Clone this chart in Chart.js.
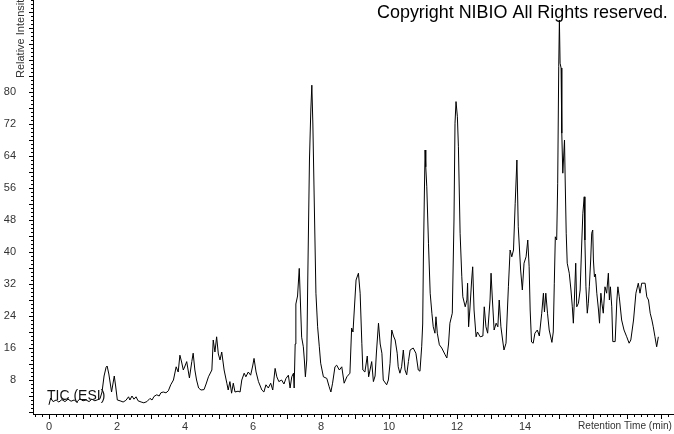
<!DOCTYPE html>
<html>
<head>
<meta charset="utf-8">
<script src="https://cdn.jsdelivr.net/npm/chart.js@4"></script>
<style>
  html, body { margin: 0; padding: 0; background: #fff; }
  canvas { display: block; }
</style>
</head>
<body>
<canvas id="ticChart" width="674" height="434"></canvas>
<script>
// retention time (min)
const times = [
  0, 0.05, 0.12, 0.21, 0.29, 0.38, 0.47, 0.56, 0.65, 0.74,
  0.82, 0.91, 1.00, 1.09, 1.18, 1.26, 1.35, 1.44, 1.50, 1.56,
  1.62, 1.68, 1.71, 1.76, 1.84, 1.88, 1.92, 1.96, 2.01, 2.09,
  2.18, 2.26, 2.34, 2.38, 2.44, 2.50, 2.56, 2.62, 2.71, 2.79,
  2.88, 2.97, 3.03, 3.09, 3.17, 3.24, 3.29, 3.36, 3.44, 3.51,
  3.58, 3.66, 3.74, 3.80, 3.85, 3.90, 3.95, 4.00, 4.05, 4.13,
  4.20, 4.24, 4.29, 4.34, 4.40, 4.47, 4.56, 4.62, 4.69, 4.79,
  4.83, 4.88, 4.93, 4.98, 5.03, 5.08, 5.15, 5.23, 5.27, 5.32,
  5.37, 5.42, 5.47, 5.56, 5.62, 5.67, 5.74, 5.79, 5.86, 5.93,
  5.99, 6.03, 6.09, 6.16, 6.26, 6.32, 6.38, 6.45, 6.52, 6.58,
  6.65, 6.70, 6.76, 6.84, 6.91, 6.97, 7.04, 7.09, 7.14, 7.19,
  7.21, 7.24, 7.26, 7.31, 7.36, 7.40, 7.43, 7.48, 7.51, 7.54,
  7.58, 7.61, 7.66, 7.70, 7.73, 7.76, 7.80, 7.85, 7.90, 7.95,
  7.99, 8.07, 8.17, 8.24, 8.29, 8.34, 8.41, 8.46, 8.54, 8.61,
  8.68, 8.76, 8.85, 8.90, 8.94, 9.03, 9.10, 9.15, 9.20, 9.23,
  9.29, 9.36, 9.40, 9.49, 9.54, 9.59, 9.63, 9.69, 9.74, 9.79,
  9.83, 9.93, 9.98, 10.03, 10.08, 10.13, 10.18, 10.24, 10.27, 10.32,
  10.37, 10.42, 10.47, 10.52, 10.57, 10.62, 10.71, 10.79, 10.86, 10.91,
  10.96, 10.99, 11.01, 11.04, 11.06, 11.08, 11.11, 11.16, 11.21, 11.26,
  11.30, 11.35, 11.38, 11.42, 11.48, 11.55, 11.65, 11.70, 11.75, 11.79,
  11.86, 11.91, 11.94, 11.97, 12.01, 12.04, 12.09, 12.14, 12.17, 12.24,
  12.29, 12.31, 12.34, 12.38, 12.43, 12.46, 12.50, 12.56, 12.60, 12.68,
  12.76, 12.80, 12.85, 12.90, 12.97, 13.00, 13.04, 13.09, 13.15, 13.20,
  13.24, 13.29, 13.34, 13.38, 13.44, 13.51, 13.56, 13.61, 13.66, 13.71,
  13.76, 13.80, 13.87, 13.92, 13.97, 14.03, 14.08, 14.12, 14.15, 14.19,
  14.24, 14.29, 14.36, 14.42, 14.49, 14.54, 14.57, 14.61, 14.66, 14.71,
  14.79, 14.83, 14.86, 14.89, 14.93, 14.96, 14.99, 15.01, 15.03, 15.06,
  15.08, 15.11, 15.13, 15.16, 15.18, 15.21, 15.24, 15.30, 15.35, 15.39,
  15.42, 15.45, 15.49, 15.52, 15.57, 15.62, 15.67, 15.70, 15.74, 15.76,
  15.79, 15.83, 15.86, 15.89, 15.93, 15.96, 15.99, 16.01, 16.04, 16.07,
  16.11, 16.16, 16.19, 16.23, 16.26, 16.30, 16.35, 16.40, 16.45, 16.48,
  16.51, 16.55, 16.58, 16.65, 16.70, 16.73, 16.77, 16.84, 16.91, 16.99,
  17.06, 17.11, 17.19, 17.26, 17.33, 17.38, 17.43, 17.53, 17.58, 17.63,
  17.68, 17.73, 17.77, 17.82, 17.87, 17.92
];

// relative intensity (%)
const intensity = [
  1.8, 3.5, 2.6, 3.0, 2.5, 3.1, 2.6, 3.2, 2.7, 3.0,
  2.5, 3.3, 2.8, 3.0, 2.6, 3.2, 2.8, 3.1, 3.3, 5.0,
  9.0, 11.2, 11.5, 9.5, 5.0, 7.0, 9.0, 6.5, 3.0, 2.8,
  2.5, 2.9, 3.8, 3.0, 4.0, 3.2, 3.8, 2.8, 2.5, 2.3,
  2.6, 3.4, 3.0, 3.9, 4.3, 4.0, 4.8, 5.0, 4.8, 5.3,
  6.8, 8.0, 11.3, 10.0, 14.2, 12.5, 10.5, 11.5, 12.6, 8.5,
  12.6, 14.7, 10.5, 8.0, 6.0, 5.5, 5.6, 7.0, 8.8, 10.5,
  18.0, 15.0, 18.8, 14.5, 13.0, 15.0, 10.5, 7.2, 5.5, 7.6,
  4.7, 7.2, 5.0, 5.2, 5.0, 8.0, 9.7, 8.8, 10.0, 9.2,
  11.5, 13.4, 10.0, 7.6, 5.5, 5.0, 6.8, 6.0, 7.2, 5.5,
  10.9, 8.8, 7.6, 8.0, 7.0, 8.4, 9.2, 6.0, 8.8, 9.7,
  6.0, 17.0, 27.0, 29.0, 35.9, 26.0, 18.7, 16.3, 13.0, 8.8,
  13.0, 33.0, 63.0, 75.5, 81.7, 72.0, 53.0, 29.7, 21.3, 16.3,
  12.2, 8.8, 8.4, 6.3, 5.0, 7.2, 11.3, 11.7, 10.5, 11.3,
  7.2, 8.8, 9.7, 21.0, 20.0, 33.0, 34.7, 29.7, 17.2, 10.5,
  10.0, 14.0, 8.8, 12.6, 7.6, 9.0, 15.0, 22.2, 17.0, 14.7,
  8.0, 6.8, 8.0, 12.2, 20.5, 19.0, 18.0, 14.7, 11.3, 9.7,
  11.3, 15.5, 10.5, 9.3, 12.6, 15.5, 16.0, 14.7, 10.5, 10.2,
  16.3, 22.0, 38.0, 55.0, 65.5, 61.3, 56.3, 42.2, 29.7, 24.7,
  21.3, 19.7, 23.8, 19.7, 16.8, 16.0, 14.3, 13.5, 17.0, 22.2,
  24.7, 48.0, 72.2, 77.6, 73.8, 66.3, 44.7, 33.8, 28.8, 26.3,
  28.0, 32.2, 21.3, 26.0, 33.0, 36.3, 25.5, 18.8, 20.0, 18.8,
  19.0, 26.3, 21.3, 19.7, 28.0, 34.7, 28.0, 20.5, 22.2, 21.3,
  28.0, 21.3, 18.0, 15.5, 17.2, 31.3, 40.5, 38.8, 40.5, 52.2,
  63.0, 46.3, 35.5, 30.5, 37.2, 38.8, 43.0, 36.3, 25.5, 17.5,
  17.2, 19.7, 20.5, 19.0, 24.7, 29.7, 25.0, 29.7, 24.7, 20.5,
  17.4, 20.0, 32.2, 43.8, 43.0, 57.2, 86.3, 98.0, 87.2, 86.0,
  69.7, 59.7, 63.0, 68.0, 58.0, 44.7, 37.2, 34.7, 30.5, 26.3,
  22.2, 28.0, 37.2, 26.3, 27.2, 30.5, 43.0, 49.7, 53.8, 43.0,
  31.3, 24.7, 27.2, 31.3, 38.0, 44.7, 45.5, 38.0, 33.8, 34.5,
  29.7, 25.5, 22.2, 29.7, 27.2, 24.7, 31.3, 29.7, 34.7, 28.0,
  31.3, 26.3, 17.6, 17.6, 28.0, 31.3, 28.8, 23.0, 20.5, 18.8,
  17.2, 18.0, 23.0, 29.7, 32.2, 29.7, 32.2, 32.2, 28.8, 28.0,
  24.7, 23.0, 21.3, 18.8, 16.3, 18.8
];

// labelled ticks (16 and up are covered by the axis title)
const xTickLabels = [0, 2, 4, 6, 8, 10, 12, 14];
const yTickLabels = [8, 16, 24, 32, 40, 48, 56, 64, 72, 80];

const FONT = '"Liberation Sans", Arial, sans-serif';

function fitText(ctx, txt, width) {
  ctx.font = "100px " + FONT;
  return 100 * width / ctx.measureText(txt).width;
}

// axis lines, small ticks and the loose texts
const decorPlugin = {
  id: "decor",
  afterDraw(chart) {
    const ctx = chart.ctx;
    const xs = chart.scales.x;
    const ys = chart.scales.y;
    const left = chart.chartArea.left;
    const bottom = chart.chartArea.bottom;

    ctx.save();
    ctx.strokeStyle = "#000";
    ctx.lineWidth = 1;
    ctx.beginPath();
    ctx.moveTo(left + 0.5, 0);
    ctx.lineTo(left + 0.5, bottom);
    ctx.moveTo(left, bottom - 0.5);
    ctx.lineTo(chart.width, bottom - 0.5);

    // y ticks, every 1, longer every 4
    for (let v = 0; v <= 103; v++) {
      const py = Math.round(ys.getPixelForValue(v)) + 0.5;
      const len = v % 4 === 0 ? 5 : 3;
      ctx.moveTo(left + 1 - len, py);
      ctx.lineTo(left + 1, py);
    }
    // x ticks, every 0.2 min, longer every minute
    for (let i = -2; i <= 92; i++) {
      const t = i / 5;
      const px = Math.round(xs.getPixelForValue(t)) + 0.5;
      if (px < left) continue;
      const len = i % 5 === 0 ? 4 : 2;
      ctx.moveTo(px, bottom);
      ctx.lineTo(px, bottom + len);
    }
    ctx.stroke();

    // axis titles
    ctx.fillStyle = "#333";
    ctx.textBaseline = "alphabetic";
    ctx.textAlign = "left";
    const xTitle = "Retention Time (min)";
    ctx.font = fitText(ctx, xTitle, 94).toFixed(2) + "px " + FONT;
    ctx.fillText(xTitle, 578, 429);

    ctx.font = "11px " + FONT;
    ctx.save();
    ctx.translate(24, 78);
    ctx.rotate(-Math.PI / 2);
    ctx.fillText("Relative Intensity", 0, 0);
    ctx.restore();

    // trace name
    ctx.fillStyle = "#111";
    ctx.font = "14px " + FONT;
    ctx.fillText("TIC (ESI)", 47, 400);

    // copyright, fitted to its width in the picture
    const txt = "Copyright NIBIO All Rights reserved.";
    ctx.font = fitText(ctx, txt, 291).toFixed(2) + "px " + FONT;
    ctx.fillStyle = "#000";
    ctx.fillText(txt, 377, 18);
    ctx.restore();
  }
};

new Chart(document.getElementById("ticChart"), {
  type: "line",
  data: {
    datasets: [{
      label: "TIC (ESI)",
      data: times.map((t, i) => ({ x: t, y: intensity[i] })),
      borderColor: "#000",
      borderWidth: 1,
      pointRadius: 0,
      tension: 0,
      fill: false
    }]
  },
  options: {
    responsive: false,
    animation: false,
    layout: { padding: 0 },
    plugins: { legend: { display: false }, tooltip: { enabled: false } },
    scales: {
      x: {
        type: "linear",
        min: -0.47,
        max: 18.38,
        afterFit(s) { s.height = 19; s.paddingLeft = 0; s.paddingRight = 0; },
        afterBuildTicks(s) { s.ticks = xTickLabels.map(v => ({ value: v })); },
        grid: { display: false, drawTicks: false },
        border: { display: false },
        ticks: {
          padding: 5,
          autoSkip: false,
          maxRotation: 0,
          color: "#333",
          font: { family: FONT, size: 11 }
        }
      },
      y: {
        type: "linear",
        min: -0.75,
        max: 103,
        afterFit(s) { s.width = 33; s.paddingTop = 0; s.paddingBottom = 0; },
        afterBuildTicks(s) { s.ticks = yTickLabels.map(v => ({ value: v })); },
        grid: { display: false, drawTicks: false },
        border: { display: false },
        ticks: {
          padding: 17,
          color: "#333",
          font: { family: FONT, size: 11 }
        }
      }
    }
  },
  plugins: [decorPlugin]
});
</script>
</body>
</html>
